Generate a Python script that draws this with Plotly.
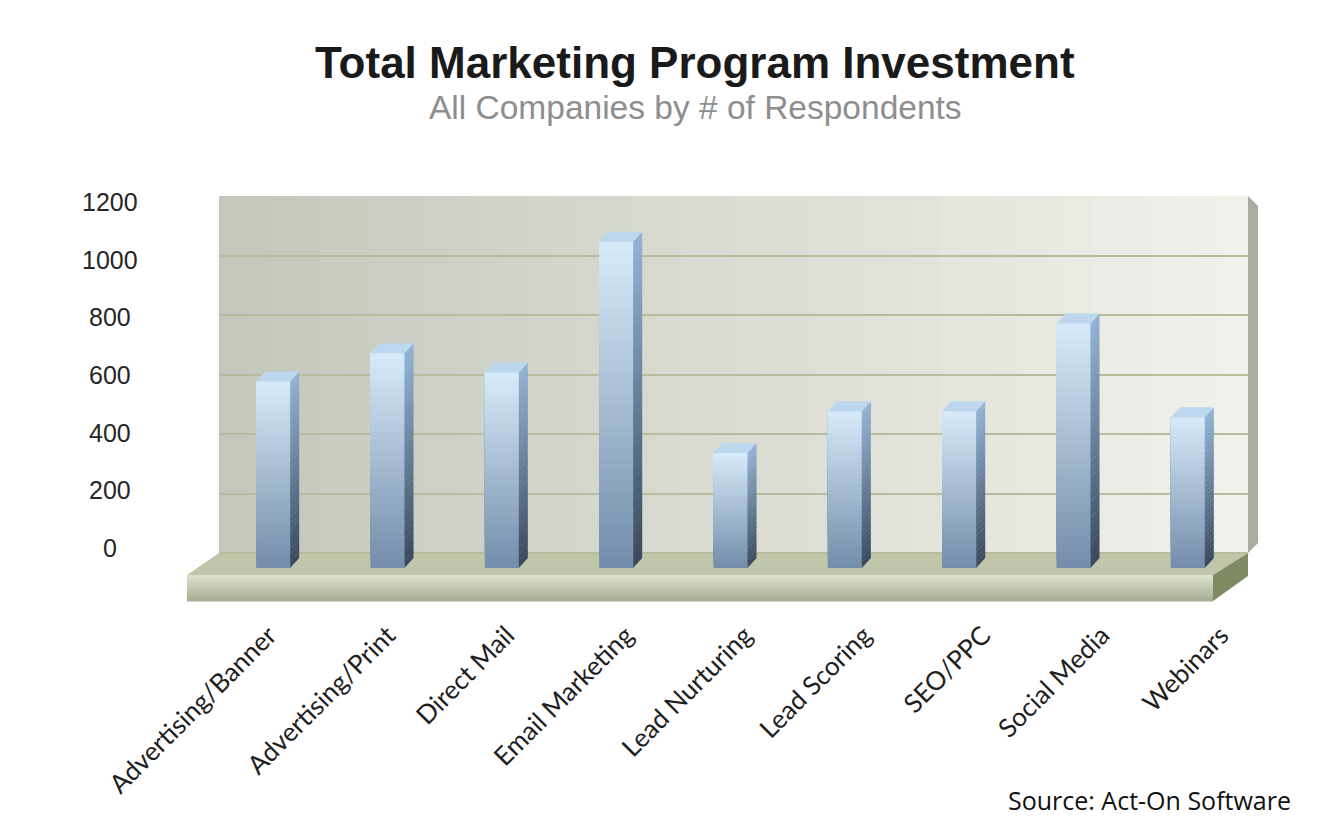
import plotly.graph_objects as go

# data (# of respondents)
categories = ["Advertising/Banner", "Advertising/Print", "Direct Mail", "Email Marketing",
              "Lead Nurturing", "Lead Scoring", "SEO/PPC", "Social Media", "Webinars"]
respondents = [610, 705, 640, 1080, 370, 510, 510, 805, 490]
y_ticks = [0, 200, 400, 600, 800, 1000, 1200]

# page geometry, in screen pixels (page has an 8px body margin)
W, H = 1337, 835
PAGE = 8
AREA_X0, AREA_X1 = 209, 1287
AREA_Y0, AREA_Y1 = 196, 601
PW, PH = AREA_X1 - AREA_X0, AREA_Y1 - AREA_Y0
WALL_X0, WALL_X1 = 219, 1248
ZERO_PX = 553
SCALE = (ZERO_PX - AREA_Y0) / 1200.0      # px per unit
Y_MIN = -(AREA_Y1 - ZERO_PX) / SCALE
# the value labels sit on a slightly flatter scale than the wall (perspective)
LABEL_ZERO_PX, LABEL_SCALE = 548, 346 / 1200.0

# 3d look of the bars
PITCH = (WALL_X1 - WALL_X0) / 9.0
BAR_W = 34 / PITCH
BAR_OFF = -20 / PITCH
DX = 9 / PITCH                      # depth, category units
DY = 10 / SCALE                     # depth, value units
BAR_BASE = -(568 - ZERO_PX) / SCALE
N_SEG = 30


def px(x):
    return (x - AREA_X0) / PW


def py(y):
    return (AREA_Y1 - y) / PH


def mix(c1, c2, t):
    return "rgb(%d,%d,%d)" % tuple(round(a + (b - a) * t) for a, b in zip(c1, c2))


def quad(p):
    return "M %f,%f L %f,%f L %f,%f L %f,%f Z" % tuple(v for pt in p for v in pt)


fig = go.Figure()
shapes = []

# back wall, left-to-right gradient
n_wall = 40
for k in range(n_wall):
    x0 = WALL_X0 + (WALL_X1 - WALL_X0) * k / n_wall
    x1 = WALL_X0 + (WALL_X1 - WALL_X0) * (k + 1) / n_wall + 1
    shapes.append(dict(type="rect", xref="paper", yref="paper", layer="below",
                       x0=px(x0), x1=px(min(x1, WALL_X1)), y0=py(ZERO_PX), y1=py(AREA_Y0),
                       fillcolor=mix((196, 200, 186), (240, 241, 235), k / (n_wall - 1)),
                       line=dict(width=0)))
# wall side edge
shapes.append(dict(type="path", xref="paper", yref="paper", layer="below",
                   path=quad([(px(WALL_X1), py(AREA_Y0)), (px(WALL_X1 + 10), py(AREA_Y0 + 10)),
                              (px(WALL_X1 + 10), py(543)), (px(WALL_X1), py(ZERO_PX))]),
                   fillcolor="#a9ad9d", line=dict(width=0)))

# floor: top, front and right side
shapes.append(dict(type="path", xref="paper", yref="paper", layer="below",
                   path=quad([(px(WALL_X0), py(ZERO_PX)), (px(WALL_X1), py(ZERO_PX)),
                              (px(1213), py(575)), (px(187), py(575))]),
                   fillcolor="#c0c6a9", line=dict(width=0)))
n_floor = 10
for k in range(n_floor):
    y0 = 575 + 26 * k / n_floor
    y1 = 575 + 26 * (k + 1) / n_floor
    shapes.append(dict(type="rect", xref="paper", yref="paper", layer="below",
                       x0=px(187), x1=px(1213), y0=py(y1 + 0.5), y1=py(y0),
                       fillcolor=mix((218, 222, 204), (168, 175, 148), k / (n_floor - 1)),
                       line=dict(width=0)))
shapes.append(dict(type="path", xref="paper", yref="paper", layer="below",
                   path=quad([(px(1213), py(575)), (px(WALL_X1), py(ZERO_PX)),
                              (px(WALL_X1), py(576)), (px(1213), py(601))]),
                   fillcolor="#7f8a62", line=dict(width=0)))

# front faces of the bars as stacked colour bands
idx = list(range(len(categories)))
fronts = [v - DY for v in respondents]
for k in range(N_SEG):
    bases = [BAR_BASE + (f - BAR_BASE) * k / N_SEG for f in fronts]
    fig.add_trace(go.Bar(
        x=idx, y=[f - b for f, b in zip(fronts, bases)], base=bases,
        width=BAR_W, offset=BAR_OFF,
        marker=dict(color=mix((116, 142, 171), (214, 233, 249), k / (N_SEG - 1)), line=dict(width=0)),
        hoverinfo="skip", showlegend=False))

# side and top faces
for i, (v, f) in enumerate(zip(respondents, fronts)):
    xr = i + BAR_OFF + BAR_W
    xl = i + BAR_OFF
    for k in range(N_SEG):
        b0 = BAR_BASE + (f - BAR_BASE) * k / N_SEG
        b1 = min(BAR_BASE + (f - BAR_BASE) * (k + 1.05) / N_SEG, f)
        shapes.append(dict(type="path", xref="x", yref="y",
                           path=quad([(xr, b0), (xr + DX, b0 + DY), (xr + DX, b1 + DY), (xr, b1)]),
                           fillcolor=mix((58, 74, 96), (146, 178, 211), k / (N_SEG - 1)),
                           line=dict(width=0)))
    shapes.append(dict(type="path", xref="x", yref="y",
                       path=quad([(xl, f), (xr, f), (xr + DX, v), (xl + DX, v)]),
                       fillcolor="#bdd7ee", line=dict(width=0)))

# invisible trace carrying the category labels (spread a bit wider, perspective)
fig.add_trace(go.Scatter(x=categories, y=respondents, xaxis="x2", yaxis="y2", mode="markers",
                         marker=dict(opacity=0), hoverinfo="skip", showlegend=False))

annotations = [
    dict(text="<b>Total Marketing Program Investment</b>", xref="paper", yref="paper",
         x=px(695), y=py(62), xanchor="center", yanchor="middle", showarrow=False,
         font=dict(family="Liberation Sans", size=44, color="#1a1a1a")),
    dict(text="All Companies by # of Respondents", xref="paper", yref="paper",
         x=px(695), y=py(107), xanchor="center", yanchor="middle", showarrow=False,
         font=dict(family="Liberation Sans", size=33.5, color="#8e8e8e")),
    dict(text="Source: Act-On Software", xref="paper", yref="paper",
         x=px(1293), y=py(800), xanchor="right", yanchor="middle", showarrow=False,
         font=dict(family="Open Sans", size=25, color="#111111")),
]
# value labels on the left, centred like the original
for t in y_ticks:
    annotations.append(dict(text=str(t), xref="paper", yref="paper", x=px(110),
                            y=py(LABEL_ZERO_PX - t * LABEL_SCALE),
                            xanchor="center", yanchor="middle", showarrow=False,
                            font=dict(family="Liberation Sans", size=25, color="#262626")))

fig.update_layout(
    width=W, height=H,
    margin=dict(l=AREA_X0 - PAGE, r=W - AREA_X1 + PAGE, t=AREA_Y0 - PAGE, b=H - AREA_Y1 + PAGE),
    paper_bgcolor="white", plot_bgcolor="rgba(0,0,0,0)",
    barmode="overlay",
    shapes=shapes,
    annotations=annotations,
    xaxis=dict(domain=[px(WALL_X0), px(WALL_X1)], range=[-0.5, 8.5],
               showticklabels=False, showgrid=False, zeroline=False, showline=False),
    yaxis=dict(range=[Y_MIN, 1200], tickvals=y_ticks, showticklabels=False, ticks="",
               showgrid=True, gridcolor="#b6bc9c", gridwidth=2,
               zeroline=False, showline=False),
    xaxis2=dict(domain=[px(209.5), px(1280.5)], anchor="y2", type="category",
                range=[-0.5, 8.5], tickangle=-45, ticks="", ticklabelstandoff=13,
                tickfont=dict(family="Lato", size=26, color="#1e1e1e"),
                showgrid=False, zeroline=False, showline=False),
    yaxis2=dict(domain=[0, 1], anchor="x2", range=[Y_MIN, 1200], visible=False),
)

fig.write_html("out.html")
